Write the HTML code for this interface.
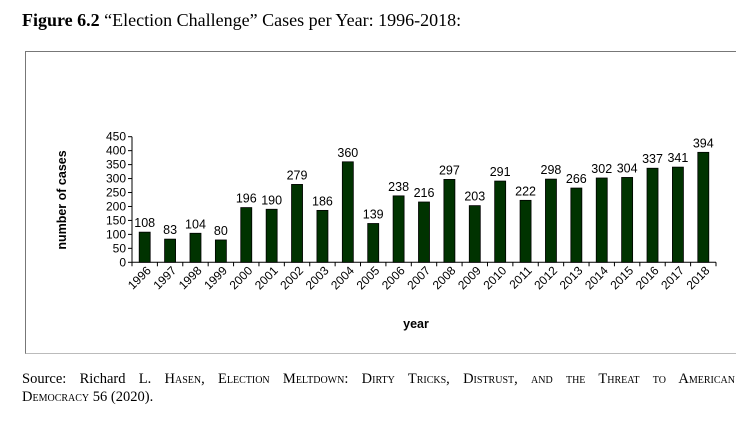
<!DOCTYPE html>
<html><head><meta charset="utf-8"><style>
body{margin:0;background:#fff;width:754px;height:421px;overflow:hidden;font-family:"Liberation Serif",serif;position:relative}
#title{position:absolute;left:22px;top:10px;font-size:18px;color:#000}
#frame{position:absolute;left:25px;top:51px;width:710px;height:301px;border-top:1px solid #777;border-left:1px solid #777;border-bottom:1px solid #bbb}
#src{position:absolute;left:22px;top:370px;width:713px;font-size:14.5px;line-height:18px}
#src .l1{text-align:justify;text-align-last:justify;white-space:nowrap}
.sc{font-variant:small-caps}
svg{position:absolute;left:0;top:0}
</style></head><body>
<div id="title"><b>Figure 6.2</b> “Election Challenge” Cases per Year: 1996-2018:</div>
<div id="frame"></div>
<svg id="chart" width="754" height="421"></svg>
<div id="src"><div class="l1">Source: Richard L. <span class="sc">Hasen, Election Meltdown: Dirty Tricks, Distrust, and the Threat to American</span></div><div><span class="sc">Democracy</span> 56 (2020).</div></div>
<script>
const years=["1996","1997","1998","1999","2000","2001","2002","2003","2004","2005","2006","2007","2008","2009","2010","2011","2012","2013","2014","2015","2016","2017","2018"];
const cases=[108,83,104,80,196,190,279,186,360,139,238,216,297,203,291,222,298,266,302,304,337,341,394];
const yTicks=[0,50,100,150,200,250,300,350,400,450];
const svg=document.getElementById('chart');const NS='http://www.w3.org/2000/svg';
const x0=132,x1=716,y0=262.3,yTop=136.7,yMax=450;
const band=(x1-x0)/years.length;
const y=v=>y0-(v/yMax)*(y0-yTop);
const xc=i=>x0+band*(i+0.5);
function mk(t,a,txt){const e=document.createElementNS(NS,t);for(const k in a)e.setAttribute(k,a[k]);if(txt!=null)e.textContent=txt;svg.appendChild(e);return e;}
const F='"Liberation Sans",Arial,sans-serif';
let ax=mk('line',{x1:x0,y1:yTop,x2:x0,y2:y0,stroke:'#000','stroke-width':1});

let bx=mk('line',{x1:x0,y1:y0,x2:x1,y2:y0,stroke:'#000','stroke-width':1});

yTicks.forEach(t=>{
  mk('line',{x1:x0-4,y1:y(t),x2:x0,y2:y(t),stroke:'#000'});
  let l=mk('text',{x:x0-6,y:y(t)+4,'text-anchor':'end','font-size':12,'font-family':F},t);
  
});
for(let i=0;i<=years.length;i++)mk('line',{x1:x0+band*i,y1:y0,x2:x0+band*i,y2:y0+4,stroke:'#000'});
years.forEach((yr,i)=>{
  const cx=xc(i),v=cases[i];
  let b=mk('rect',{x:cx-5.5,y:y(v),width:11,height:y0-y(v),fill:'#003300',stroke:'#000','stroke-width':0.8});
  
  let vl=mk('text',{x:cx,y:y(v)-5,'text-anchor':'middle','font-size':12.5,'font-family':F},v);
  
  let xl=mk('text',{x:cx+7,y:y0+9,'text-anchor':'end','font-size':12,'font-family':F,transform:`rotate(-45 ${cx+7} ${y0+9})`},yr);
  
});
let xt=mk('text',{x:416,y:328,'text-anchor':'middle','font-size':12.5,'font-weight':'bold','font-family':F},'year');

let yt=mk('text',{x:66,y:200,'text-anchor':'middle','font-size':12.5,'font-weight':'bold','font-family':F,transform:'rotate(-90 66 200)'},'number of cases');

</script>
</body></html>
